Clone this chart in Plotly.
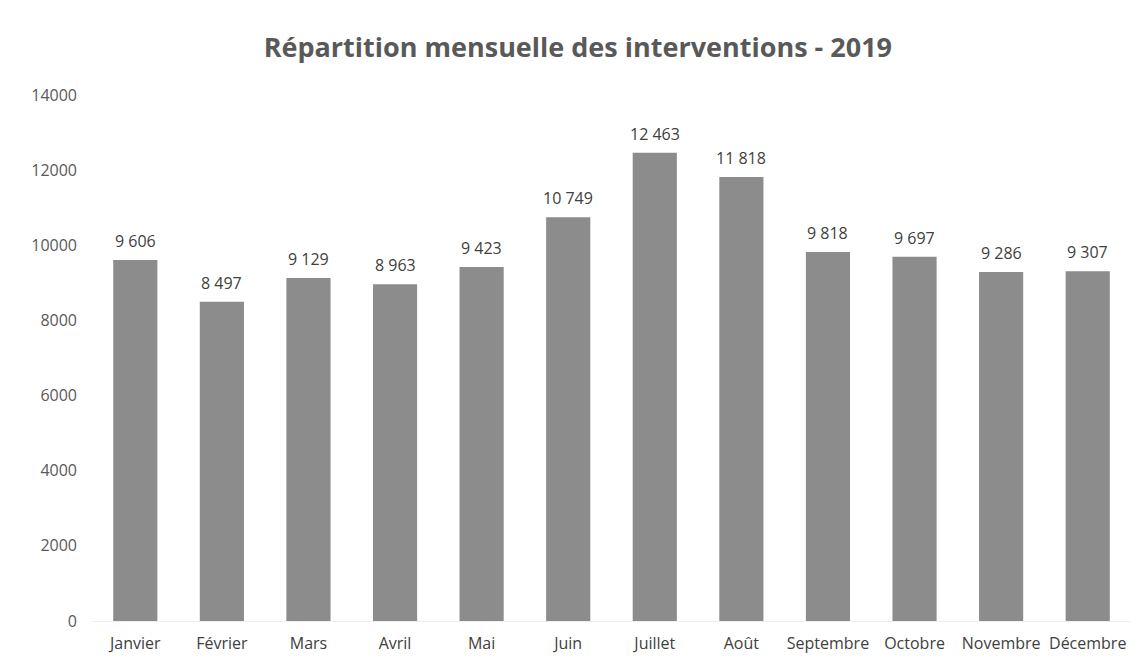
import plotly.graph_objects as go

months = ["Janvier", "Février", "Mars", "Avril", "Mai", "Juin", "Juillet", "Août",
          "Septembre", "Octobre", "Novembre", "Décembre"]
interventions = [9606, 8497, 9129, 8963, 9423, 10749, 12463, 11818, 9818, 9697, 9286, 9307]
y_ticks = [0, 2000, 4000, 6000, 8000, 10000, 12000, 14000]

fig = go.Figure(go.Bar(
    x=months,
    y=interventions,
    marker=dict(color="#8c8c8c", line=dict(width=0)),
    width=0.51,
))

for m, v in zip(months, interventions):
    fig.add_annotation(x=m, y=v, text=f"{v:,}".replace(",", " "),
                       showarrow=False, yanchor="bottom", yshift=6,
                       font=dict(family="Open Sans", size=16, color="#404040"))

fig.update_layout(
    width=1142, height=663,
    margin=dict(l=84, r=19, t=87, b=50),
    paper_bgcolor="white", plot_bgcolor="white",
    title=dict(text="<b>Répartition mensuelle des interventions - 2019</b>",
               x=0.499, xanchor="center", y=0.94, yanchor="middle",
               font=dict(family="Open Sans", size=27, color="#595959")),
    showlegend=False,
)
fig.update_yaxes(range=[0, 14000], tickvals=y_ticks, ticktext=[str(t) for t in y_ticks],
                 showgrid=False, zeroline=False, showline=False,
                 tickfont=dict(family="Open Sans", size=16, color="#595959"),
                 ticklabelstandoff=14)
fig.update_xaxes(showgrid=False, showline=True, linecolor="#eeeeee", linewidth=1,
                 tickfont=dict(family="Open Sans", size=16, color="#404040"),
                 ticklabelstandoff=8)

fig.write_html("out.html")
